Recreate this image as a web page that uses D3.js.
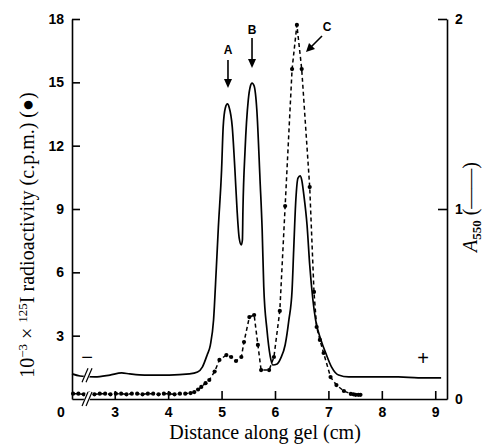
<!DOCTYPE html>
<html>
<head>
<meta charset="utf-8">
<script src="https://cdn.jsdelivr.net/npm/d3@7"></script>
<style>
  body { margin: 0; background: #fff; }
  svg { display: block; }
  .tick text { font-family: "Liberation Sans", Arial, sans-serif; font-size: 14px; font-weight: bold; fill: #000; }
  .tick line, .domain { stroke: #000; stroke-width: 1.6; }
  .title { font-family: "Liberation Serif", "Times New Roman", serif; font-size: 20px; fill: #000; }
</style>
</head>
<body>
<div id="chart"></div>
<script>
(function(){

    // A550 trace (solid line), distance in cm
    const solidX = [2.20, 2.35, 2.63, 2.91, 3.13, 3.28, 3.56, 4.02, 4.40, 4.55, 4.64, 4.73, 4.79, 4.85, 4.90,
        4.94, 5.00, 5.03, 5.07, 5.11, 5.14, 5.20, 5.25, 5.29, 5.33, 5.37, 5.39, 5.40, 5.44, 5.50,
        5.54, 5.57, 5.61, 5.66, 5.72, 5.76, 5.79, 5.85, 5.91, 5.96, 6.04, 6.11, 6.19, 6.26, 6.32,
        6.35, 6.39, 6.43, 6.47, 6.50, 6.54, 6.60, 6.65, 6.71, 6.76, 6.86, 6.95, 7.06, 7.19, 7.38,
        7.75, 8.31, 8.68, 9.11];
    const solidA = [0.132, 0.121, 0.116, 0.126, 0.137, 0.132, 0.126, 0.126, 0.132, 0.142, 0.168, 0.232, 0.284, 0.416, 0.679,
        0.905, 1.205, 1.432, 1.532, 1.553, 1.537, 1.432, 1.205, 0.995, 0.847, 0.811, 0.837, 0.995, 1.311, 1.574,
        1.647, 1.663, 1.647, 1.521, 1.153, 0.889, 0.589, 0.363, 0.226, 0.179, 0.184, 0.216, 0.284, 0.416, 0.574,
        0.784, 1.047, 1.163, 1.174, 1.153, 1.074, 0.916, 0.705, 0.521, 0.416, 0.311, 0.242, 0.168, 0.126, 0.116,
        0.116, 0.116, 0.111, 0.111];

    // 125I radioactivity (dashed line with dots), 10^-3 c.p.m.
    const dashX = [2.22, 2.32, 2.42, 2.52, 2.62, 2.72, 2.82, 2.92, 3.02, 3.12, 3.22, 3.32, 3.42, 3.52, 3.62,
        3.72, 3.82, 3.92, 4.02, 4.12, 4.22, 4.32, 4.42, 4.49, 4.56, 4.62, 4.70, 4.77, 4.87, 4.96,
        5.09, 5.18, 5.27, 5.37, 5.42, 5.52, 5.61, 5.68, 5.74, 5.89, 5.98, 6.09, 6.19, 6.32, 6.41,
        6.50, 6.65, 6.73, 6.78, 6.84, 6.91, 7.04, 7.15, 7.29, 7.42, 7.47, 7.51, 7.56, 7.60];
    const dashC = [0.25, 0.25, 0.22, 0.25, 0.22, 0.25, 0.25, 0.22, 0.25, 0.25, 0.22, 0.25, 0.25, 0.22, 0.25,
        0.25, 0.22, 0.25, 0.25, 0.22, 0.25, 0.25, 0.28, 0.33, 0.45, 0.57, 0.75, 0.90, 1.30, 1.85,
        2.08, 1.99, 1.80, 1.99, 2.70, 3.88, 3.98, 2.56, 1.37, 1.37, 1.99, 4.17, 9.14, 15.63, 17.72,
        15.63, 10.04, 5.07, 3.41, 2.80, 2.18, 1.04, 0.66, 0.38, 0.24, 0.22, 0.20, 0.20, 0.20];

    const xTicks = [3, 4, 5, 6, 7, 8, 9];
    const cpmTicks = [3, 6, 9, 12, 15, 18];
    const absTicks = [0, 1, 2];

    const peakLabels = ["A", "B", "C"];
    const peakPos = [5.12, 5.57, 6.45];

    const width = 486, height = 444;

    const svg = d3.select("#chart").append("svg")
        .attr("width", width)
        .attr("height", height);

    const x = d3.scaleLinear().domain([2.2, 9.22]).range([72, 447]);
    const yL = d3.scaleLinear().domain([0, 18]).range([399, 19]);
    const yR = d3.scaleLinear().domain([0, 2]).range([399, 19]);

    // axes
    svg.append("g")
        .attr("transform", "translate(0,399)")
        .call(d3.axisBottom(x).tickValues(xTicks).tickSizeInner(-8).tickSizeOuter(0).tickPadding(8).tickFormat(d3.format("d")));

    svg.append("g")
        .attr("transform", "translate(72,0)")
        .call(d3.axisLeft(yL).tickValues(cpmTicks).tickSizeInner(-8).tickSizeOuter(0).tickPadding(8).tickFormat(d3.format("d")));

    const rAxis = svg.append("g")
        .attr("transform", "translate(447,0)")
        .call(d3.axisRight(yR).tickValues(absTicks).tickSizeInner(-9).tickSizeOuter(0).tickPadding(8).tickFormat(d3.format("d")));
    rAxis.selectAll(".tick").filter(d => d === 0).select("line").remove();

    svg.selectAll(".domain").attr("fill", "none");

    // "0" at the origin
    svg.append("text")
        .attr("x", 61).attr("y", 417)
        .attr("text-anchor", "middle")
        .style("font-family", "Liberation Sans, Arial, sans-serif")
        .style("font-size", "14px").style("font-weight", "bold")
        .text("0");

    // solid A550 line
    const solidLine = d3.line()
        .x((d, i) => x(solidX[i]))
        .y(d => yR(d))
        .curve(d3.curveMonotoneX);

    svg.append("path")
        .datum(solidA)
        .attr("fill", "none")
        .attr("stroke", "#000")
        .attr("stroke-width", 1.7)
        .attr("d", solidLine);

    // dashed radioactivity line
    const dashLine = d3.line()
        .x((d, i) => x(dashX[i]))
        .y(d => yL(d));

    svg.append("path")
        .datum(dashC)
        .attr("fill", "none")
        .attr("stroke", "#000")
        .attr("stroke-width", 1.5)
        .attr("stroke-dasharray", "4,3")
        .attr("d", dashLine);

    svg.append("g")
        .selectAll("circle")
        .data(dashC)
        .enter()
        .append("circle")
        .attr("cx", (d, i) => x(dashX[i]))
        .attr("cy", d => yL(d))
        .attr("r", 2.1)
        .attr("fill", "#000");

    // axis break marks
    function breakMark(cx, cy) {
        const g = svg.append("g").attr("transform", `translate(${cx},${cy})`);
        g.append("polygon")
            .attr("points", "-6,7 -2,-7 4,-7 0,7")
            .attr("fill", "#fff");
        [-3, 1].forEach(o => {
            g.append("line")
                .attr("x1", o - 3).attr("y1", 7)
                .attr("x2", o + 3).attr("y2", -7)
                .attr("stroke", "#000").attr("stroke-width", 1.2);
        });
    }
    breakMark(x(2.5), yR(0.125));
    breakMark(x(2.5), 399);

    // peak labels and arrows
    const lab = { A: [50, 60, 88], B: [30, 38, 68] };
    peakLabels.forEach((p, i) => {
        const px = x(peakPos[i]);
        if (p === "C") {
            svg.append("text").attr("x", 327).attr("y", 31).attr("text-anchor", "middle")
                .style("font-family", "Liberation Sans, Arial, sans-serif").style("font-size", "12px").style("font-weight", "bold")
                .text(p);
            svg.append("line").attr("x1", 322).attr("y1", 36).attr("x2", 311).attr("y2", 47)
                .attr("stroke", "#000").attr("stroke-width", 1.6);
            svg.append("polygon")
                .attr("points", "306,52 309,43 315,49")
                .attr("fill", "#000");
            return;
        }
        const [ty, a1, a2] = lab[p];
        svg.append("text").attr("x", px).attr("y", ty + 4).attr("text-anchor", "middle")
            .style("font-family", "Liberation Sans, Arial, sans-serif").style("font-size", "12px").style("font-weight", "bold")
            .text(p);
        svg.append("line").attr("x1", px).attr("y1", a1).attr("x2", px).attr("y2", a2 - 6)
            .attr("stroke", "#000").attr("stroke-width", 1.6);
        svg.append("polygon")
            .attr("points", `${px - 4},${a2 - 9} ${px + 4},${a2 - 9} ${px},${a2}`)
            .attr("fill", "#000");
    });

    // electrode signs
    svg.append("text").attr("x", 87).attr("y", 364).attr("text-anchor", "middle")
        .style("font-family", "Liberation Sans, Arial, sans-serif").style("font-size", "20px")
        .text("\u2212");
    svg.append("text").attr("x", 423).attr("y", 365).attr("text-anchor", "middle")
        .style("font-family", "Liberation Sans, Arial, sans-serif").style("font-size", "20px")
        .text("+");

    // axis titles
    svg.append("text")
        .attr("class", "title")
        .attr("x", 265).attr("y", 439)
        .attr("text-anchor", "middle")
        .text("Distance along gel (cm)");

    const lt = svg.append("text")
        .attr("class", "title")
        .attr("transform", "translate(34,235) rotate(-90)")
        .attr("text-anchor", "middle");
    lt.append("tspan").text("10");
    lt.append("tspan").attr("dy", -7).style("font-size", "13px").text("\u22123");
    lt.append("tspan").attr("dy", 7).text(" \u00d7 ");
    lt.append("tspan").attr("dy", -7).style("font-size", "13px").text("125");
    lt.append("tspan").attr("dy", 7).text("I radioactivity (c.p.m.) (\u25cf)");

    const rt = svg.append("text")
        .attr("class", "title")
        .attr("transform", "translate(477,207) rotate(-90)")
        .attr("text-anchor", "middle");
    rt.append("tspan").style("font-style", "italic").text("A");
    rt.append("tspan").attr("dy", 4).style("font-size", "13px").style("font-weight", "bold").text("550");
    rt.append("tspan").attr("dy", -4).text(" (\u2014\u2014)");

})();
</script>
</body>
</html>
